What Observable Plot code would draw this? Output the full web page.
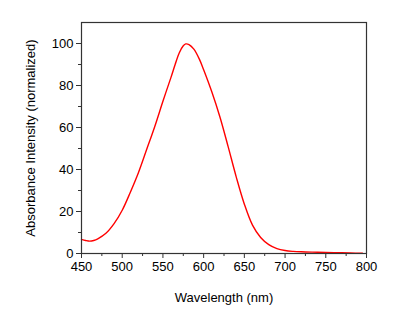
<!DOCTYPE html>
<html>
<head>
<meta charset="utf-8">
<script src="https://cdn.jsdelivr.net/npm/d3@7"></script>
<script src="https://cdn.jsdelivr.net/npm/@observablehq/plot@0.6"></script>
<style>
  html, body { margin: 0; padding: 0; background: #fff; }
</style>
</head>
<body>
<div id="chart"></div>
<script>
const wavelengths = [450, 455, 460, 465, 470, 480, 490, 500, 510, 520, 530, 540, 550, 560, 565, 570, 575, 578, 582, 588, 595, 600, 610, 620, 630, 640, 650, 660, 670, 680, 690, 700, 710, 720, 740, 760, 780, 795];
const absorbance  = [6.7, 6.2, 5.9, 6.2, 7.0, 9.6, 14.2, 20.6, 29.2, 38.6, 49.5, 60.5, 72.5, 84.0, 90.0, 95.5, 98.9, 99.8, 99.5, 97.3, 92.3, 87.5, 77.0, 65.0, 51.0, 36.5, 23.5, 13.5, 7.6, 4.2, 2.3, 1.4, 1.0, 0.8, 0.6, 0.4, 0.3, 0.1];
const xMajorTicks = [450, 500, 550, 600, 650, 700, 750, 800];
const xMinorTicks = [475, 525, 575, 625, 675, 725, 775];
const yMajorTicks = [0, 20, 40, 60, 80, 100];
const yMinorTicks = [10, 30, 50, 70, 90];

const data = wavelengths.map((w, i) => ({w, a: absorbance[i]}));

const chart = Plot.plot({
  width: 400,
  height: 326,
  marginLeft: 81,
  marginRight: 34,
  marginTop: 22,
  marginBottom: 73,
  style: {fontFamily: "'Liberation Sans', Arial, sans-serif", fontSize: "13px", color: "#000", background: "#fff"},
  x: {domain: [450, 800]},
  y: {domain: [0, 110]},
  marks: [
    Plot.axisX({ticks: xMinorTicks, tickSize: 3, tickFormat: () => "", label: null, stroke: "#333"}),
    Plot.axisY({ticks: yMinorTicks, tickSize: 3, tickFormat: () => "", label: null, stroke: "#333"}),
    Plot.axisX({ticks: xMajorTicks, tickSize: 5, tickPadding: 3, label: "Wavelength (nm)", labelAnchor: "center", labelArrow: "none", labelOffset: 48, stroke: "#333"}),
    Plot.axisY({ticks: yMajorTicks, tickSize: 5, tickPadding: 3, label: "Absorbance Intensity (normalized)", labelAnchor: "center", labelArrow: "none", labelOffset: 56, stroke: "#333"}),
    Plot.line(data, {x: "w", y: "a", stroke: "#ff0000", strokeWidth: 1.4, curve: "catmull-rom"}),
    Plot.frame({stroke: "#333", strokeWidth: 1.2})
  ]
});
document.getElementById("chart").appendChild(chart);
</script>
</body>
</html>
